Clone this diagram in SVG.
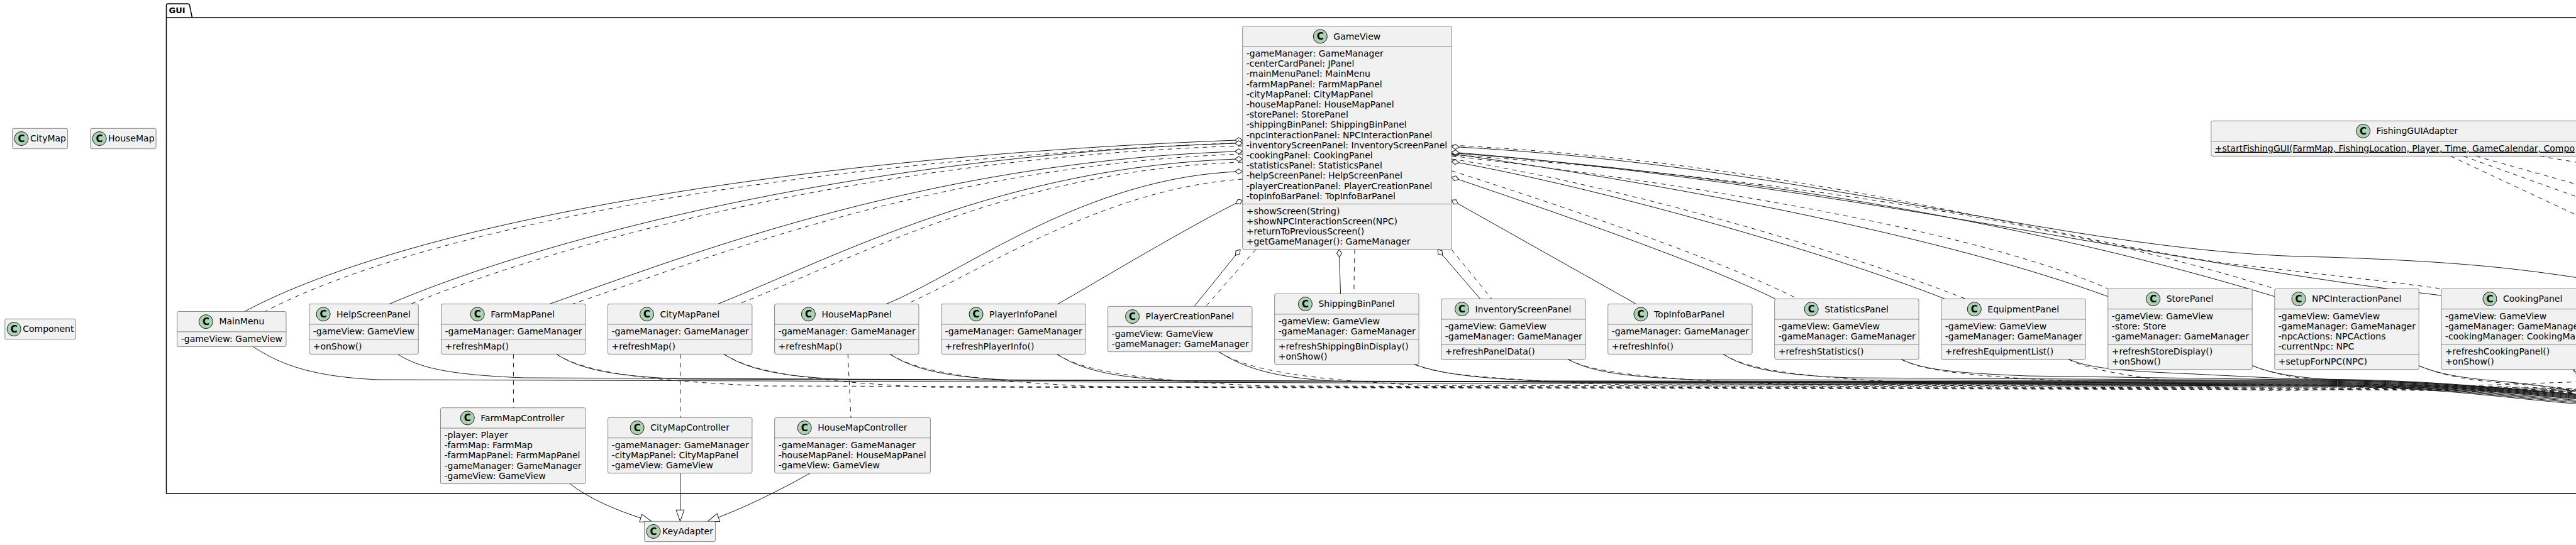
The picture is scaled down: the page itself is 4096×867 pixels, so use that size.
<svg xmlns="http://www.w3.org/2000/svg" width="4096" height="867" viewBox="0 0 4096 867">
<defs>
<style>
.cls{fill:#F1F1F1;stroke:#181818;stroke-width:0.5}
.sep{stroke:#181818;stroke-width:0.5}
.t{font-family:"DejaVu Sans",sans-serif;font-size:14px;fill:#000}
.u{text-decoration:underline}
.spot{fill:#ADD1B2;stroke:#181818;stroke-width:1}
.sc{font-family:"DejaVu Sans",sans-serif;font-size:15px;font-weight:bold;fill:#000;text-anchor:middle}
.e{fill:none;stroke:#181818;stroke-width:1}
.d{stroke-dasharray:7,7}
.agg{marker-start:url(#dia)}
.ext{marker-end:url(#tri)}
.pkg{fill:none;stroke:#000;stroke-width:1.5}
</style>
<marker id="dia" markerUnits="userSpaceOnUse" orient="auto" overflow="visible" markerWidth="12" markerHeight="8" refX="0" refY="0"><path d="M0,0 L6,-4 L12,0 L6,4 Z" fill="#fff" stroke="#181818" stroke-width="1"/></marker>
<marker id="tri" markerUnits="userSpaceOnUse" orient="auto" overflow="visible" markerWidth="18" markerHeight="13" refX="0" refY="0"><path d="M0,0 L-18,-6.5 L-18,6.5 Z" fill="#fff" stroke="#181818" stroke-width="1"/></marker>
</defs>
<rect x="0" y="0" width="4096" height="867" fill="#fff"/>
<g id="GUI">
<path class="pkg" d="M264.5,28 L264.5,8.5 Q264.5,6 267,6 L298.5,6 Q301,6 301.5,8.5 L305.5,28"/>
<path class="pkg" d="M4200,28 L264.5,28 L264.5,785 L4200,785"/>
<text x="268.5" y="21" style="font-family:'DejaVu Sans',sans-serif;font-size:13px;font-weight:bold">GUI</text>
</g>
<g id="connectors">
<path class="e agg" d="M1975.7,222.7 C1260,248.6 653,354.7 389,495.45"/>
<path class="e d" d="M1975.7,227 C1270,255 680,360 421.7,495.45"/>
<path class="e agg" d="M1975.7,227.7 C1376,245.7 867,378 619,483.6"/>
<path class="e d" d="M1975.7,232 C1390,250 895,385 653.3,483.6"/>
<path class="e agg" d="M1975.7,240.7 C1476,255.7 1090,407.4 873.7,483.6"/>
<path class="e d" d="M1975.7,245 C1490,262 1115,415 910.4,483.6"/>
<path class="e agg" d="M1975.7,252.7 C1596,264 1327,409.3 1141.4,483.6"/>
<path class="e d" d="M1975.7,258 C1610,270 1350,415 1174.4,483.6"/>
<path class="e agg" d="M1975.7,272.7 C1726,280 1530,435 1409,483.6"/>
<path class="e d" d="M1975.7,285 C1760,300 1580,420 1442,483.6"/>
<path class="e agg" d="M1975.7,318.3 C1890,360 1750,445 1682,483.6"/>
<path class="e agg" d="M1972,396.9 L1899,487.35"/>
<path class="e d" d="M1996.7,396.9 L1917.3,487.35"/>
<path class="e agg" d="M2129.3,396.9 L2131.5,467.4"/>
<path class="e d" d="M2154,396.9 L2152.8,467.4"/>
<path class="e agg" d="M2286,396.9 L2353.7,475.5"/>
<path class="e d" d="M2308,396.9 L2372,475.5"/>
<path class="e agg" d="M2308.1,318.3 L2601.6,483.6"/>
<path class="e agg" d="M2308.1,281.7 C2450,330 2700,415 2823,475.5"/>
<path class="e d" d="M2308.1,271.7 C2460,320 2730,410 2858.3,475.5"/>
<path class="e agg" d="M2308.1,256.7 C2550,300 2900,400 3092.7,475.5"/>
<path class="e d" d="M2308.1,253 C2560,292 2920,395 3125.7,475.5"/>
<path class="e agg" d="M2308.1,244.5 C2700,300 3100,380 3351.8,471.7"/>
<path class="e d" d="M2308.1,248 C2720,296 3150,370 3351.8,459.3"/>
<path class="e agg" d="M2308.1,243.3 C2800,280 3250,360 3616.8,471.7"/>
<path class="e d" d="M2308.1,246 C2820,283 3270,350 3616.8,459.3"/>
<path class="e agg" d="M2308.1,242 C2900,290 3450,420 3881.9,470"/>
<path class="e d" d="M2308.1,231 C2900,262 3300,390 3550,420 C3700,437 3800,448 3881.9,459.3"/>
<path class="e agg" d="M2308.1,233.3 C2900,265 3300,405 3700,409 C3900,416 4000,425 4150,450"/>
<path class="e d" d="M3896.5,248.4 L4150,367"/>
<path class="e d" d="M3917,248.4 L4150,332"/>
<path class="e d" d="M3937,248.4 L4150,308"/>
<path class="e d" d="M4038.7,248.4 L4150,267"/>
<path class="e d" d="M816.4,563.4 L816.4,648.7"/>
<path class="e d" d="M1081.5,563.4 L1081.5,664.3"/>
<path class="e d" d="M1348.2,563.4 L1353,664.3"/>
<path class="e ext" d="M906.4,769.6 C935,792 980,813 1036,829.3"/>
<path class="e ext" d="M1081.5,752.8 L1081.5,829.3"/>
<path class="e ext" d="M1288,752.8 C1240,780 1180,810 1125.4,829.3"/>
<path class="e" d="M402.3,551.55 C437.3,573.5 482.3,599 602.3,604 L3650,614 C3900,614 4000,638 4150,646"/>
<path class="e" d="M632.3,563.4 C667.3,585.4 712.3,596 832.3,601 L3650,613 C3900,613 4000,636 4150,644"/>
<path class="e" d="M884.7,563.4 C919.7,585.4 964.7,598 1084.7,603 L3650,612 C3900,612 4000,634 4150,642"/>
<path class="e" d="M1151,563.4 C1186,585.4 1231,599 1351,604 L3650,611 C3900,611 4000,632 4150,640"/>
<path class="e" d="M1415,563.4 C1450,585.4 1495,600 1615,605 L3650,610 C3900,610 4000,630 4150,638"/>
<path class="e" d="M1680.4,563.4 C1715.4,585.4 1760.4,601 1880.4,606 L3650,609 C3900,609 4000,629 4150,637"/>
<path class="e" d="M1937.9,559.65 C1972.9,581.6 2017.9,602 2137.9,607 L3650,608 C3900,608 4000,628 4150,636"/>
<path class="e" d="M2248.8,579.6 C2283.8,592 2328.8,601 2448.8,606 L3650,607 C3900,607 4000,627 4150,635"/>
<path class="e" d="M2493,571.5 C2528,590 2573,599 2693,604 L3650,606 C3900,606 4000,626 4150,634"/>
<path class="e" d="M2740,563.4 C2775,585.4 2820,596 2940,601 L3650,605 C3900,605 4000,625 4150,633"/>
<path class="e" d="M3023,571.5 C3058,588 3103,593 3223,598 L3650,604 C3900,604 4000,624 4150,632"/>
<path class="e" d="M3289,571.5 C3324,586 3369,590 3489,595 L3650,603 C3900,603 4000,623 4150,631"/>
<path class="e" d="M3581.7,581.7 C3620,598 3680,604 3760,606 C3900,609 4000,620 4150,631"/>
<path class="e" d="M3845.8,581.7 C3880,596 3920,602 3980,607 C4040,612 4090,622 4150,630"/>
<path class="e" d="M4091,587.7 C4100,600 4110,612 4130,625"/>
<path class="e d" d="M884.7,563.4 C919.7,585.4 984.7,604 1214.7,614 L3650,620 C3900,620 4000,624 4150,630"/>
<path class="e d" d="M1151,563.4 C1186,585.4 1251,606 1481,616 L3650,619 C3900,619 4000,622 4150,628"/>
<path class="e d" d="M1415,563.4 C1450,585.4 1515,605 1745,615 L3650,618 C3900,618 4000,621 4150,627"/>
<path class="e d" d="M1680.4,563.4 C1715.4,585.4 1780.4,604 2010.4,614 L3650,617 C3900,617 4000,620 4150,626"/>
<path class="e d" d="M1937.9,559.65 C1972.9,581.6 2037.9,603 2267.9,613 L3650,616 C3900,616 4000,619 4150,625"/>
<path class="e d" d="M2248.8,579.6 C2283.8,595 2348.8,602 2578.8,612 L3650,615 C3900,615 4000,618 4150,624"/>
<path class="e d" d="M2493,571.5 C2528,590 2593,601 2823,611 L3650,614 C3900,614 4000,617 4150,623"/>
<path class="e d" d="M2740,563.4 C2775,585.4 2840,600 3070,610 L3650,613 C3900,613 4000,616 4150,622"/>
<path class="e d" d="M3023,571.5 C3058,590 3123,599 3353,609 L3650,612 C3900,612 4000,615 4150,621"/>
<path class="e d" d="M3289,571.5 C3324,590 3389,598 3500,614 C3560,622 3620,622 3700,620 C3900,616 4000,610 4150,606"/>
<path class="e d" d="M3581.7,581.7 C3625,600 3700,610 3800,612 C3930,614 4010,620 4150,626"/>
<path class="e d" d="M3845.8,581.7 C3885,598 3930,606 3990,610 C4050,614 4100,620 4150,624"/>
<path class="e d" d="M4091,587.7 C4105,600 4125,610 4150,618"/>
</g>
<g id="CityMap">
<rect class="cls" x="19.6" y="204.3" width="88" height="32.4" rx="2.5"/>
<circle class="spot" cx="34" cy="220.5" r="11"/><text class="sc" x="34" y="225.95">C</text>
<text class="t" x="48" y="225.3">CityMap</text>
</g>
<g id="HouseMap">
<rect class="cls" x="143.7" y="204.3" width="104.4" height="32.4" rx="2.5"/>
<circle class="spot" cx="158.1" cy="220.5" r="11"/><text class="sc" x="158.1" y="225.95">C</text>
<text class="t" x="172.1" y="225.3">HouseMap</text>
</g>
<g id="Component">
<rect class="cls" x="7.8" y="507.3" width="112.3" height="32.4" rx="2.5"/>
<circle class="spot" cx="22.2" cy="523.5" r="11"/><text class="sc" x="22.2" y="528.95">C</text>
<text class="t" x="36.2" y="528.3">Component</text>
</g>
<g id="KeyAdapter">
<rect class="cls" x="1024.6" y="829.3" width="113" height="32.4" rx="2.5"/>
<circle class="spot" cx="1039" cy="845.5" r="11"/><text class="sc" x="1039" y="850.95">C</text>
<text class="t" x="1053" y="850.3">KeyAdapter</text>
</g>
<g id="GameView">
<rect class="cls" x="1975.7" y="41.7" width="332.4" height="355.2" rx="2.5"/>
<circle class="spot" cx="2099.3" cy="57.9" r="11"/><text class="sc" x="2099.3" y="63.35">C</text>
<text class="t" x="2120.3" y="62.7">GameView</text>
<line class="sep" x1="1975.7" y1="74.1" x2="2308.1" y2="74.1"/>
<text class="t"><tspan x="1981.7" y="90">-gameManager: GameManager</tspan><tspan x="1981.7" dy="16.2">-centerCardPanel: JPanel</tspan><tspan x="1981.7" dy="16.2">-mainMenuPanel: MainMenu</tspan><tspan x="1981.7" dy="16.2">-farmMapPanel: FarmMapPanel</tspan><tspan x="1981.7" dy="16.2">-cityMapPanel: CityMapPanel</tspan><tspan x="1981.7" dy="16.2">-houseMapPanel: HouseMapPanel</tspan><tspan x="1981.7" dy="16.2">-storePanel: StorePanel</tspan><tspan x="1981.7" dy="16.2">-shippingBinPanel: ShippingBinPanel</tspan><tspan x="1981.7" dy="16.2">-npcInteractionPanel: NPCInteractionPanel</tspan><tspan x="1981.7" dy="16.2">-inventoryScreenPanel: InventoryScreenPanel</tspan><tspan x="1981.7" dy="16.2">-cookingPanel: CookingPanel</tspan><tspan x="1981.7" dy="16.2">-statisticsPanel: StatisticsPanel</tspan><tspan x="1981.7" dy="16.2">-helpScreenPanel: HelpScreenPanel</tspan><tspan x="1981.7" dy="16.2">-playerCreationPanel: PlayerCreationPanel</tspan><tspan x="1981.7" dy="16.2">-topInfoBarPanel: TopInfoBarPanel</tspan></text>
<line class="sep" x1="1975.7" y1="324.6" x2="2308.1" y2="324.6"/>
<text class="t"><tspan x="1981.7" y="340.5">+showScreen(String)</tspan><tspan x="1981.7" dy="16.2">+showNPCInteractionScreen(NPC)</tspan><tspan x="1981.7" dy="16.2">+returnToPreviousScreen()</tspan><tspan x="1981.7" dy="16.2">+getGameManager(): GameManager</tspan></text>
</g>
<g id="MainMenu">
<rect class="cls" x="281.7" y="495.45" width="173.3" height="56.1" rx="2.5"/>
<circle class="spot" cx="327.4" cy="511.65" r="11"/><text class="sc" x="327.4" y="517.1">C</text>
<text class="t" x="348.4" y="516.45">MainMenu</text>
<line class="sep" x1="281.7" y1="527.85" x2="455" y2="527.85"/>
<text class="t" x="287.7" y="543.75">-gameView: GameView</text>
</g>
<g id="HelpScreenPanel">
<rect class="cls" x="491.7" y="483.6" width="173.6" height="79.8" rx="2.5"/>
<circle class="spot" cx="514.1" cy="499.8" r="11"/><text class="sc" x="514.1" y="505.25">C</text>
<text class="t" x="535.1" y="504.6">HelpScreenPanel</text>
<line class="sep" x1="491.7" y1="516" x2="665.3" y2="516"/>
<text class="t" x="497.7" y="531.9">-gameView: GameView</text>
<line class="sep" x1="491.7" y1="539.7" x2="665.3" y2="539.7"/>
<text class="t" x="497.7" y="555.6">+onShow()</text>
</g>
<g id="FarmMapPanel">
<rect class="cls" x="701.5" y="483.6" width="229.4" height="79.8" rx="2.5"/>
<circle class="spot" cx="759.2" cy="499.8" r="11"/><text class="sc" x="759.2" y="505.25">C</text>
<text class="t" x="780.2" y="504.6">FarmMapPanel</text>
<line class="sep" x1="701.5" y1="516" x2="930.9" y2="516"/>
<text class="t" x="707.5" y="531.9">-gameManager: GameManager</text>
<line class="sep" x1="701.5" y1="539.7" x2="930.9" y2="539.7"/>
<text class="t" x="707.5" y="555.6">+refreshMap()</text>
</g>
<g id="CityMapPanel">
<rect class="cls" x="966.5" y="483.6" width="229.4" height="79.8" rx="2.5"/>
<circle class="spot" cx="1028.5" cy="499.8" r="11"/><text class="sc" x="1028.5" y="505.25">C</text>
<text class="t" x="1049.5" y="504.6">CityMapPanel</text>
<line class="sep" x1="966.5" y1="516" x2="1195.9" y2="516"/>
<text class="t" x="972.5" y="531.9">-gameManager: GameManager</text>
<line class="sep" x1="966.5" y1="539.7" x2="1195.9" y2="539.7"/>
<text class="t" x="972.5" y="555.6">+refreshMap()</text>
</g>
<g id="HouseMapPanel">
<rect class="cls" x="1231.6" y="483.6" width="229.4" height="79.8" rx="2.5"/>
<circle class="spot" cx="1285.4" cy="499.8" r="11"/><text class="sc" x="1285.4" y="505.25">C</text>
<text class="t" x="1306.4" y="504.6">HouseMapPanel</text>
<line class="sep" x1="1231.6" y1="516" x2="1461" y2="516"/>
<text class="t" x="1237.6" y="531.9">-gameManager: GameManager</text>
<line class="sep" x1="1231.6" y1="539.7" x2="1461" y2="539.7"/>
<text class="t" x="1237.6" y="555.6">+refreshMap()</text>
</g>
<g id="PlayerInfoPanel">
<rect class="cls" x="1496.6" y="483.6" width="229.4" height="79.8" rx="2.5"/>
<circle class="spot" cx="1552.05" cy="499.8" r="11"/><text class="sc" x="1552.05" y="505.25">C</text>
<text class="t" x="1573.05" y="504.6">PlayerInfoPanel</text>
<line class="sep" x1="1496.6" y1="516" x2="1726" y2="516"/>
<text class="t" x="1502.6" y="531.9">-gameManager: GameManager</text>
<line class="sep" x1="1496.6" y1="539.7" x2="1726" y2="539.7"/>
<text class="t" x="1502.6" y="555.6">+refreshPlayerInfo()</text>
</g>
<g id="PlayerCreationPanel">
<rect class="cls" x="1761.6" y="487.35" width="229.4" height="72.3" rx="2.5"/>
<circle class="spot" cx="1800.55" cy="503.55" r="11"/><text class="sc" x="1800.55" y="509">C</text>
<text class="t" x="1821.55" y="508.35">PlayerCreationPanel</text>
<line class="sep" x1="1761.6" y1="519.75" x2="1991" y2="519.75"/>
<text class="t"><tspan x="1767.6" y="535.65">-gameView: GameView</tspan><tspan x="1767.6" dy="16.2">-gameManager: GameManager</tspan></text>
</g>
<g id="ShippingBinPanel">
<rect class="cls" x="2026.7" y="467.4" width="229.4" height="112.2" rx="2.5"/>
<circle class="spot" cx="2075.45" cy="483.6" r="11"/><text class="sc" x="2075.45" y="489.05">C</text>
<text class="t" x="2096.45" y="488.4">ShippingBinPanel</text>
<line class="sep" x1="2026.7" y1="499.8" x2="2256.1" y2="499.8"/>
<text class="t"><tspan x="2032.7" y="515.7">-gameView: GameView</tspan><tspan x="2032.7" dy="16.2">-gameManager: GameManager</tspan></text>
<line class="sep" x1="2026.7" y1="539.7" x2="2256.1" y2="539.7"/>
<text class="t"><tspan x="2032.7" y="555.6">+refreshShippingBinDisplay()</tspan><tspan x="2032.7" dy="16.2">+onShow()</tspan></text>
</g>
<g id="InventoryScreenPanel">
<rect class="cls" x="2291.7" y="475.5" width="229.4" height="96" rx="2.5"/>
<circle class="spot" cx="2324.55" cy="491.7" r="11"/><text class="sc" x="2324.55" y="497.15">C</text>
<text class="t" x="2345.55" y="496.5">InventoryScreenPanel</text>
<line class="sep" x1="2291.7" y1="507.9" x2="2521.1" y2="507.9"/>
<text class="t"><tspan x="2297.7" y="523.8">-gameView: GameView</tspan><tspan x="2297.7" dy="16.2">-gameManager: GameManager</tspan></text>
<line class="sep" x1="2291.7" y1="547.8" x2="2521.1" y2="547.8"/>
<text class="t" x="2297.7" y="563.7">+refreshPanelData()</text>
</g>
<g id="TopInfoBarPanel">
<rect class="cls" x="2556.7" y="483.6" width="229.4" height="79.8" rx="2.5"/>
<circle class="spot" cx="2608.95" cy="499.8" r="11"/><text class="sc" x="2608.95" y="505.25">C</text>
<text class="t" x="2629.95" y="504.6">TopInfoBarPanel</text>
<line class="sep" x1="2556.7" y1="516" x2="2786.1" y2="516"/>
<text class="t" x="2562.7" y="531.9">-gameManager: GameManager</text>
<line class="sep" x1="2556.7" y1="539.7" x2="2786.1" y2="539.7"/>
<text class="t" x="2562.7" y="555.6">+refreshInfo()</text>
</g>
<g id="StatisticsPanel">
<rect class="cls" x="2821.7" y="475.5" width="229.4" height="96" rx="2.5"/>
<circle class="spot" cx="2880.2" cy="491.7" r="11"/><text class="sc" x="2880.2" y="497.15">C</text>
<text class="t" x="2901.2" y="496.5">StatisticsPanel</text>
<line class="sep" x1="2821.7" y1="507.9" x2="3051.1" y2="507.9"/>
<text class="t"><tspan x="2827.7" y="523.8">-gameView: GameView</tspan><tspan x="2827.7" dy="16.2">-gameManager: GameManager</tspan></text>
<line class="sep" x1="2821.7" y1="547.8" x2="3051.1" y2="547.8"/>
<text class="t" x="2827.7" y="563.7">+refreshStatistics()</text>
</g>
<g id="EquipmentPanel">
<rect class="cls" x="3086.8" y="475.5" width="229.4" height="96" rx="2.5"/>
<circle class="spot" cx="3139.3" cy="491.7" r="11"/><text class="sc" x="3139.3" y="497.15">C</text>
<text class="t" x="3160.3" y="496.5">EquipmentPanel</text>
<line class="sep" x1="3086.8" y1="507.9" x2="3316.2" y2="507.9"/>
<text class="t"><tspan x="3092.8" y="523.8">-gameView: GameView</tspan><tspan x="3092.8" dy="16.2">-gameManager: GameManager</tspan></text>
<line class="sep" x1="3086.8" y1="547.8" x2="3316.2" y2="547.8"/>
<text class="t" x="3092.8" y="563.7">+refreshEquipmentList()</text>
</g>
<g id="StorePanel">
<rect class="cls" x="3351.8" y="459.3" width="229.4" height="128.4" rx="2.5"/>
<circle class="spot" cx="3423.65" cy="475.5" r="11"/><text class="sc" x="3423.65" y="480.95">C</text>
<text class="t" x="3444.65" y="480.3">StorePanel</text>
<line class="sep" x1="3351.8" y1="491.7" x2="3581.2" y2="491.7"/>
<text class="t"><tspan x="3357.8" y="507.6">-gameView: GameView</tspan><tspan x="3357.8" dy="16.2">-store: Store</tspan><tspan x="3357.8" dy="16.2">-gameManager: GameManager</tspan></text>
<line class="sep" x1="3351.8" y1="547.8" x2="3581.2" y2="547.8"/>
<text class="t"><tspan x="3357.8" y="563.7">+refreshStoreDisplay()</tspan><tspan x="3357.8" dy="16.2">+onShow()</tspan></text>
</g>
<g id="NPCInteractionPanel">
<rect class="cls" x="3616.8" y="459.3" width="229.4" height="128.4" rx="2.5"/>
<circle class="spot" cx="3654.95" cy="475.5" r="11"/><text class="sc" x="3654.95" y="480.95">C</text>
<text class="t" x="3675.95" y="480.3">NPCInteractionPanel</text>
<line class="sep" x1="3616.8" y1="491.7" x2="3846.2" y2="491.7"/>
<text class="t"><tspan x="3622.8" y="507.6">-gameView: GameView</tspan><tspan x="3622.8" dy="16.2">-gameManager: GameManager</tspan><tspan x="3622.8" dy="16.2">-npcActions: NPCActions</tspan><tspan x="3622.8" dy="16.2">-currentNpc: NPC</tspan></text>
<line class="sep" x1="3616.8" y1="564" x2="3846.2" y2="564"/>
<text class="t" x="3622.8" y="579.9">+setupForNPC(NPC)</text>
</g>
<g id="CookingPanel">
<rect class="cls" x="3881.9" y="459.3" width="259.2" height="128.4" rx="2.5"/>
<circle class="spot" cx="3958.95" cy="475.5" r="11"/><text class="sc" x="3958.95" y="480.95">C</text>
<text class="t" x="3979.95" y="480.3">CookingPanel</text>
<line class="sep" x1="3881.9" y1="491.7" x2="4141.1" y2="491.7"/>
<text class="t"><tspan x="3887.9" y="507.6">-gameView: GameView</tspan><tspan x="3887.9" dy="16.2">-gameManager: GameManage</tspan><tspan x="3887.9" dy="16.2">-cookingManager: CookingMa</tspan></text>
<line class="sep" x1="3881.9" y1="547.8" x2="4141.1" y2="547.8"/>
<text class="t"><tspan x="3887.9" y="563.7">+refreshCookingPanel()</tspan><tspan x="3887.9" dy="16.2">+onShow()</tspan></text>
</g>
<g id="FarmMapController">
<rect class="cls" x="700.5" y="648.7" width="230.3" height="120.9" rx="2.5"/>
<circle class="spot" cx="743.25" cy="664.9" r="11"/><text class="sc" x="743.25" y="670.35">C</text>
<text class="t" x="764.25" y="669.7">FarmMapController</text>
<line class="sep" x1="700.5" y1="681.1" x2="930.8" y2="681.1"/>
<text class="t"><tspan x="706.5" y="697">-player: Player</tspan><tspan x="706.5" dy="16.2">-farmMap: FarmMap</tspan><tspan x="706.5" dy="16.2">-farmMapPanel: FarmMapPanel</tspan><tspan x="706.5" dy="16.2">-gameManager: GameManager</tspan><tspan x="706.5" dy="16.2">-gameView: GameView</tspan></text>
</g>
<g id="CityMapController">
<rect class="cls" x="966.6" y="664.3" width="229.3" height="88.5" rx="2.5"/>
<circle class="spot" cx="1013.15" cy="680.5" r="11"/><text class="sc" x="1013.15" y="685.95">C</text>
<text class="t" x="1034.15" y="685.3">CityMapController</text>
<line class="sep" x1="966.6" y1="696.7" x2="1195.9" y2="696.7"/>
<text class="t"><tspan x="972.6" y="712.6">-gameManager: GameManager</tspan><tspan x="972.6" dy="16.2">-cityMapPanel: CityMapPanel</tspan><tspan x="972.6" dy="16.2">-gameView: GameView</tspan></text>
</g>
<g id="HouseMapController">
<rect class="cls" x="1231.7" y="664.3" width="247.7" height="88.5" rx="2.5"/>
<circle class="spot" cx="1279.25" cy="680.5" r="11"/><text class="sc" x="1279.25" y="685.95">C</text>
<text class="t" x="1300.25" y="685.3">HouseMapController</text>
<line class="sep" x1="1231.7" y1="696.7" x2="1479.4" y2="696.7"/>
<text class="t"><tspan x="1237.7" y="712.6">-gameManager: GameManager</tspan><tspan x="1237.7" dy="16.2">-houseMapPanel: HouseMapPanel</tspan><tspan x="1237.7" dy="16.2">-gameView: GameView</tspan></text>
</g>
<g id="FishingGUIAdapter">
<rect class="cls" x="3515.8" y="192.3" width="624.4" height="56.1" rx="2.5"/>
<circle class="spot" cx="3757.6" cy="208.5" r="11"/><text class="sc" x="3757.6" y="213.95">C</text>
<text class="t" x="3778.6" y="213.3">FishingGUIAdapter</text>
<line class="sep" x1="3515.8" y1="224.7" x2="4140.2" y2="224.7"/>
<text class="t u" x="3521.8" y="240.6">+startFishingGUI(FarmMap, FishingLocation, Player, Time, GameCalendar, Compo</text>
</g>
</svg>
